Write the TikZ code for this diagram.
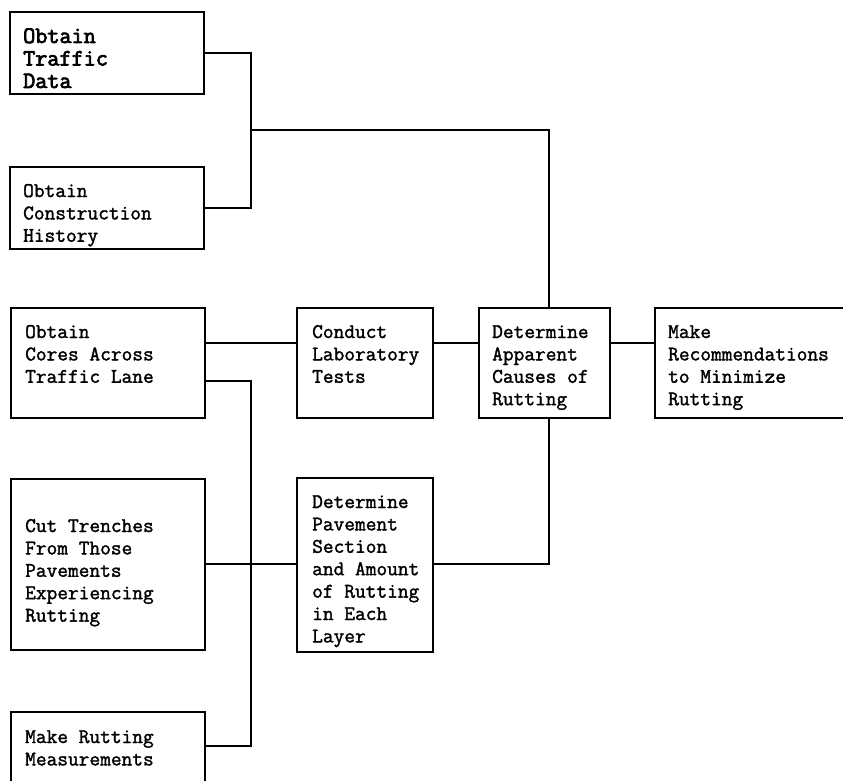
\documentclass[tikz,border=0pt]{standalone}
\usepackage{fontspec}
\newfontfamily\scanmono{Latin Modern Mono}[FakeBold=1.6]
\newfontfamily\heavymono{Latin Modern Mono}[FakeBold=3]
\begin{document}
\begin{tikzpicture}[x=1pt,y=-1pt,
  stepbox/.style={draw=black, line width=1.8pt, inner sep=0pt, rectangle},
  txt/.style={inner sep=0pt, anchor=base west, text=black},
  wire/.style={draw=black, line width=1.8pt}]
\newcommand{\mytxt}[1]{\parbox[t]{220pt}{\scanmono\fontsize{20.8}{22.4}\selectfont #1}}
\useasboundingbox (0,0) rectangle (843,781);
\fill[white] (0,0) rectangle (843,781);
\clip (0,0) rectangle (843,781);
% boxes
\node[stepbox, minimum width=194pt, minimum height=82pt] (b1) at (107,53) {};
\node[stepbox, minimum width=194pt, minimum height=82pt] (b2) at (107,208) {};
\node[stepbox, minimum width=194pt, minimum height=110pt] (b3) at (108,363) {};
\node[stepbox, minimum width=194pt, minimum height=171pt] (cut) at (108,564.5) {};
\node[stepbox, minimum width=194pt, minimum height=80pt] (mrut) at (108,752) {};
\node[stepbox, minimum width=136pt, minimum height=110pt] (lab) at (365,363) {};
\node[stepbox, minimum width=136pt, minimum height=174pt] (pav) at (365,565) {};
\node[stepbox, minimum width=131pt, minimum height=110pt] (app) at (544.5,363) {};
\node[stepbox, minimum width=215pt, minimum height=110pt] (rec) at (762.5,363) {};
% texts
\node[txt] (t1) at (23,43) {\parbox[t]{220pt}{\heavymono\fontsize{23.5}{22.5}\selectfont Obtain\\Traffic\\Data}};
\node[txt] (t2) at (23,197) {\mytxt{Obtain\\Construction\\History}};
\node[txt] (t3) at (25,338) {\mytxt{Obtain\\Cores Across\\Traffic Lane}};
\node[txt] (t4) at (25,532) {\mytxt{Cut Trenches\\From Those\\Pavements\\Experiencing\\Rutting}};
\node[txt] (t5) at (25,743) {\mytxt{Make Rutting\\Measurements}};
\node[txt] (t6) at (312,338) {\mytxt{Conduct\\Laboratory\\Tests}};
\node[txt] (t7) at (312,508) {\mytxt{Determine\\Pavement\\Section\\and Amount\\of Rutting\\in Each\\Layer}};
\node[txt] (t8) at (492,338) {\mytxt{Determine\\Apparent\\Causes of\\Rutting}};
\node[txt] (t9) at (668,338) {\mytxt{Make\\Recommendations\\to Minimize\\Rutting}};
% junction points
\coordinate (j1) at (251,130);
\coordinate (j2) at (251,381);
% connectors
\draw[wire] (b1.east) -| (j1) |- (b2.east);
\draw[wire] (j1) -| ([xshift=4.5pt]app.north);
\draw[wire] (b3.east |- 0,343) -- (lab.west |- 0,343);
\draw[wire] (lab.east |- 0,343) -- (app.west |- 0,343);
\draw[wire] (app.east |- 0,343) -- (rec.west |- 0,343);
\draw[wire] (b3.east |- j2) -- (j2) |- (mrut.east |- 0,746);
\draw[wire] (cut.east |- 0,564) -- (pav.west |- 0,564);
\draw[wire] (pav.east |- 0,564) -| ([xshift=4.5pt]app.south);
\end{tikzpicture}
\end{document}
